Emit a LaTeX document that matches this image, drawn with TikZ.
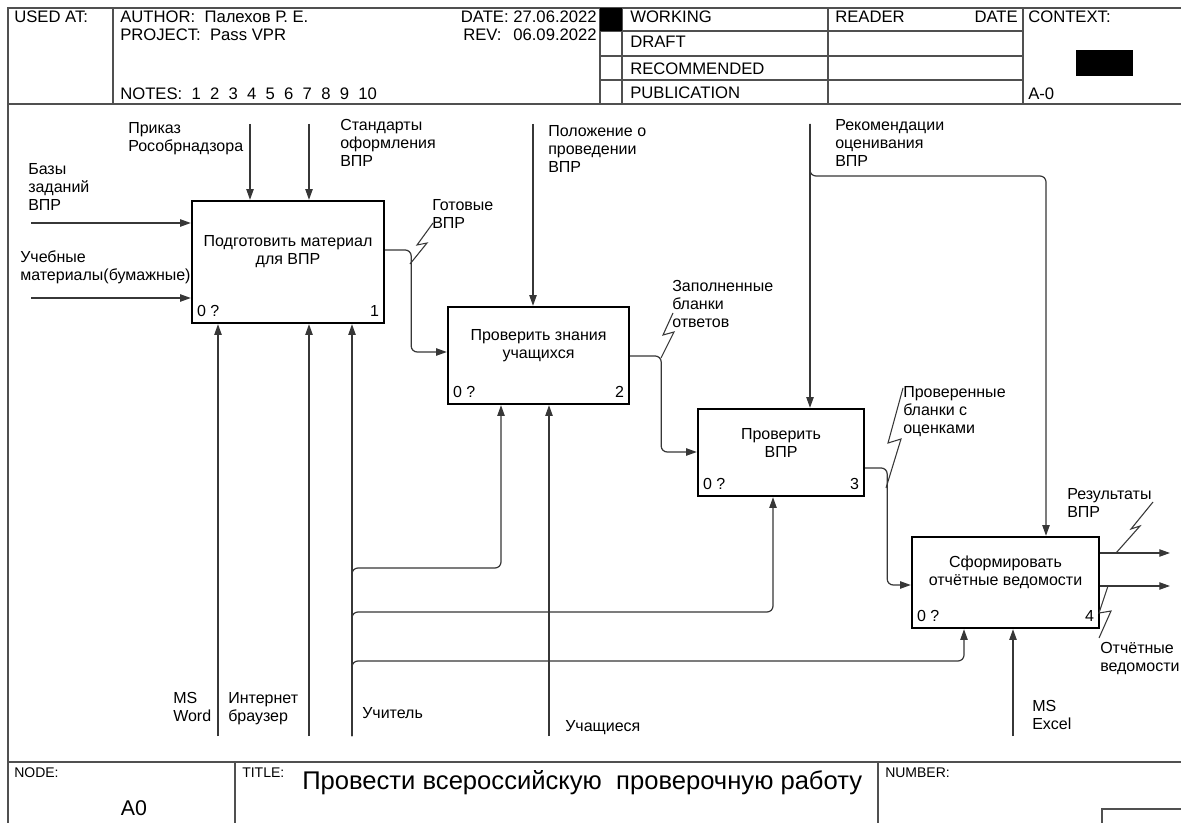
\documentclass[tikz,border=0pt]{standalone}
\usepackage{fontspec}
\setmainfont{Liberation Sans}
\usetikzlibrary{arrows.meta,calc,backgrounds}
\definecolor{shadowgray}{RGB}{190,187,181}
\definecolor{linegray}{RGB}{55,55,55}
\definecolor{framegray}{RGB}{80,80,80}
\begin{document}
\begin{tikzpicture}[x=0.75pt,y=-0.75pt,
  frameline/.style={line width=1.1pt, draw=framegray},
  fbox/.style={draw=black, line width=1.8pt, fill=white, inner sep=0pt},
  arr/.style={draw=linegray, line width=0.9pt, -{Triangle[length=8pt,width=5.5pt]}, rounded corners=4.5pt},
  sq/.style={draw=linegray, line width=0.8pt},
  lbl/.style={font=\fontsize{12}{13.5}\selectfont, align=left, inner sep=0pt, anchor=north west},
  boxtxt/.style={font=\fontsize{12}{13.5}\selectfont, align=center, inner sep=0pt},
  corner/.style={font=\fontsize{12}{13.5}\selectfont, inner sep=0pt},
  hdr/.style={font=\fontsize{12.5}{14}\selectfont, inner sep=0pt, anchor=base west},
  hdrr/.style={font=\fontsize{12.5}{14}\selectfont, inner sep=0pt, anchor=base east},
  small/.style={font=\fontsize{10.5}{12}\selectfont, inner sep=0pt, anchor=base west}
]
\useasboundingbox (0,0) rectangle (1181,823);
\fill[white] (0,0) rectangle (1181,823);

% ---------- header ----------
\draw[frameline] (8,823) -- (8,8) -- (1181,8);
\draw[frameline] (8,104) -- (1181,104);
\foreach \xx in {113,600,622,828,1023} \draw[frameline] (\xx,8) -- (\xx,104);
\foreach \yy in {31,56,80} \draw[frameline] (600,\yy) -- (1023,\yy);
\fill[black] (600,8) rectangle (622,31);
\fill[black] (1076,50) rectangle (1133,76);
\node[hdr] (usedat) at (14,23) {USED AT:};
\node[hdr] (author) at (120,23) {AUTHOR:\ \ Палехов Р. Е.};
\node[hdr] (project) at (120,41) {PROJECT:\ \ Pass VPR};
\node[hdr] (notes) at (120,100) {NOTES:\ \ 1\ \ 2\ \ 3\ \ 4\ \ 5\ \ 6\ \ 7\ \ 8\ \ 9\ \ 10};
\node[hdrr] (date) at (597,23) {DATE: 27.06.2022};
\node[hdr] (rev) at (463,41) {REV:};
\node[hdrr] (revdate) at (597,41) {06.09.2022};
\node[hdr] (working) at (630,23) {WORKING};
\node[hdr] (draft) at (630,48) {DRAFT};
\node[hdr] (recom) at (630,75) {RECOMMENDED};
\node[hdr] (publ) at (630,99) {PUBLICATION};
\node[hdr] (reader) at (835,23) {READER};
\node[hdrr] (rdate) at (1018,23) {DATE};
\node[hdr] (context) at (1028,23) {CONTEXT:};
\node[hdr] (azero) at (1028,100) {A-0};

% ---------- footer ----------
\draw[frameline] (8,762) -- (1181,762);
\draw[frameline] (235,762) -- (235,823);
\draw[frameline] (878,762) -- (878,823);
\draw[frameline] (1181,809) -- (1102,809) -- (1102,823);
\node[small] (nodelbl) at (14,777) {NODE:};
\node[font=\fontsize{16}{18}\selectfont, inner sep=0pt] (nodeA) at (134,808) {A0};
\node[small] (titlelbl) at (242,777) {TITLE:};
\node[font=\fontsize{19.2}{22}\selectfont, inner sep=0pt, anchor=base west] (title) at (302,789) {Провести всероссийскую\ \ проверочную работу};
\node[small] (numberlbl) at (885,777) {NUMBER:};

% ---------- boxes ----------
\node[fbox, minimum width=192*0.75pt, minimum height=122*0.75pt] (b1) at (288,262) {};
\node[fbox, minimum width=181*0.75pt, minimum height=97*0.75pt] (b2) at (538.5,355.5) {};
\node[fbox, minimum width=166*0.75pt, minimum height=87*0.75pt] (b3) at (781,452.5) {};
\node[fbox, minimum width=187*0.75pt, minimum height=91*0.75pt] (b4) at (1005.5,582.5) {};
\begin{scope}[on background layer]
  \foreach \b in {b1,b2,b3,b4}
    \fill[shadowgray] ($(\b.south west)+(10,10)$) rectangle ($(\b.north east)+(10,10)$);
\end{scope}

\node[boxtxt] (t1) at ($(b1.center)+(0,-10)$) {Подготовить материал\\для ВПР};
\node[boxtxt] (t2) at ($(b2.center)+(0,-10)$) {Проверить знания\\учащихся};
\node[boxtxt] (t3) at ($(b3.center)+(0,-10)$) {Проверить\\ВПР};
\node[boxtxt] (t4) at ($(b4.center)+(0,-10)$) {Сформировать\\отчётные ведомости};
\foreach \b/\n in {b1/1,b2/2,b3/3,b4/4}{
  \node[corner, anchor=base west] at ($(\b.south west)+(6,-8)$) {0 ?};
  \node[corner, anchor=base east] at ($(\b.south east)+(-6,-8)$) {\n};
}

% ---------- controls ----------
\coordinate (c1) at (250,124);
\coordinate (c2) at (309,124);
\coordinate (c3) at (533,124);
\coordinate (c4) at (810,124);
\coordinate (c4b) at (1046,176);
\draw[arr] (c1) -- (c1 |- b1.north);
\draw[arr] (c2) -- (c2 |- b1.north);
\draw[arr] (c3) -- (c3 |- b2.north);
\draw[arr] (c4) -- (c4 |- b3.north);
\draw[arr] (c4) -- (c4 |- c4b) -- (c4b) -- (c4b |- b4.north);

% ---------- inputs ----------
\coordinate (i1) at (31,223);
\coordinate (i2) at (31,298);
\draw[arr] (i1) -- (i1 -| b1.west);
\draw[arr] (i2) -- (i2 -| b1.west);

% ---------- outputs / flows ----------
\coordinate (o1s) at ($(b1.east)+(0,-12)$);
\coordinate (o1t) at ($(b2.west)+(0,-3.5)$);
\draw[arr] (o1s) -- ++(26,0) |- (o1t);
\coordinate (o2s) at ($(b2.east)+(0,0.5)$);
\coordinate (o2t) at ($(b3.west)+(0,-0.5)$);
\draw[arr] (o2s) -- ++(31,0) |- (o2t);
\coordinate (o3s) at ($(b3.east)+(0,15.5)$);
\coordinate (o3t) at ($(b4.west)+(0,2.5)$);
\draw[arr] (o3s) -- ++(22,0) |- (o3t);
\coordinate (o4s) at ($(b4.east)+(0,-29.5)$);
\coordinate (o4e) at (1170,553);
\draw[arr] (o4s) -- (o4e);
\coordinate (o5s) at ($(b4.east)+(0,3.5)$);
\coordinate (o5e) at (1170,586);
\draw[arr] (o5s) -- (o5e);

% ---------- mechanisms ----------
\coordinate (m1) at (218,736);
\coordinate (m2) at (309,736);
\coordinate (m3) at (352,736);
\coordinate (m3a) at (501,568);
\coordinate (m3b) at (773,612);
\coordinate (m3c) at (964,661);
\coordinate (m4) at (549,736);
\coordinate (m5) at (1013,736);
\draw[arr] (m1) -- (m1 |- b1.south);
\draw[arr] (m2) -- (m2 |- b1.south);
\draw[arr] (m3) -- (m3 |- b1.south);
\draw[arr] (m3) |- (m3a) -- (m3a |- b2.south);
\draw[arr] (m3) |- (m3b) -- (m3b |- b3.south);
\draw[arr] (m3) |- (m3c) -- (m3c |- b4.south);
\draw[arr] (m4) -- (m4 |- b2.south);
\draw[arr] (m5) -- (m5 |- b4.south);

% ---------- squiggles ----------
\draw[sq] (410,264) -- (427,243) -- (417,245) -- (433,223);
\draw[sq] (661,358) -- (674,332) -- (663,335) -- (673,313);
\draw[sq] (886,488) -- (901,439) -- (888,443) -- (903,388);
\draw[sq] (1116,553) -- (1140,526) -- (1131,529) -- (1153,502);
\draw[sq] (1108,586) -- (1099,613) -- (1111,611) -- (1099,638);

% ---------- labels ----------
\node[lbl] (l1) at (128,122) {Приказ\\Рособрнадзора};
\node[lbl] (l2) at (340,119) {Стандарты\\оформления\\ВПР};
\node[lbl] (l3) at (28,163) {Базы\\заданий\\ВПР};
\node[lbl] (l4) at (20,251) {Учебные\\материалы(бумажные)};
\node[lbl] (l5) at (548,125) {Положение о\\проведении\\ВПР};
\node[lbl] (l6) at (835,119) {Рекомендации\\оценивания\\ВПР};
\node[lbl] (l7) at (432,199) {Готовые\\ВПР};
\node[lbl] (l8) at (672,280) {Заполненные\\бланки\\ответов};
\node[lbl] (l9) at (903,386) {Проверенные\\бланки с\\оценками};
\node[lbl] (l10) at (1067,488) {Результаты\\ВПР};
\node[lbl] (l11) at (1100,642) {Отчётные\\ведомости};
\node[lbl] (l12) at (173,692) {MS\\Word};
\node[lbl] (l13) at (228,692) {Интернет\\браузер};
\node[lbl] (l14) at (362,707) {Учитель};
\node[lbl] (l15) at (565,720) {Учащиеся};
\node[lbl] (l16) at (1032,700) {MS\\Excel};
\end{tikzpicture}
\end{document}
